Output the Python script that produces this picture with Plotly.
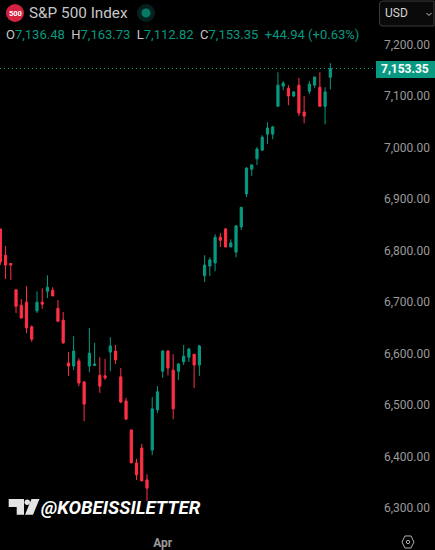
import plotly.graph_objects as go

W = 435
H = 550

# daily candles
opens = [6842, 6791, 6775, 6724, 6694, 6700, 6652, 6683, 6700, 6721, 6723, 6688, 6665, 6582, 6576, 6586,
         6545, 6576, 6577, 6558, 6557, 6603, 6605, 6555, 6508, 6452, 6388, 6417, 6355, 6413, 6491, 6566,
         6605, 6568, 6566, 6584, 6593, 6599, 6578, 6751, 6770, 6776, 6826, 6842, 6807, 6797, 6846, 6910,
         6958, 6978, 6995, 7026, 7026, 7080, 7119, 7115, 7100, 7121, 7069, 7109, 7121, 7117, 7080, 7136.48]
highs = [6842, 6809, 6776, 6725, 6706, 6731, 6655, 6721, 6727, 6752, 6729, 6704, 6681, 6603, 6634, 6591,
         6547, 6650, 6621, 6593, 6590, 6632, 6617, 6572, 6514, 6452, 6396, 6425, 6366, 6516, 6537, 6607,
         6607, 6599, 6582, 6617, 6611, 6599, 6617, 6791, 6787, 6832, 6834, 6844, 6822, 6849, 6884, 6962,
         6968, 7001, 7024, 7049, 7042, 7146, 7129, 7121, 7109, 7135, 7100, 7129, 7137, 7146, 7117, 7163.73]
lows = [6772, 6745, 6743, 6679, 6669, 6640, 6623, 6679, 6687, 6708, 6712, 6661, 6619, 6557, 6568, 6537,
        6469, 6564, 6576, 6524, 6549, 6566, 6580, 6504, 6471, 6388, 6355, 6353, 6314, 6403, 6485, 6553,
        6558, 6473, 6549, 6578, 6584, 6533, 6557, 6739, 6751, 6760, 6807, 6807, 6807, 6787, 6840, 6904,
        6945, 6966, 6993, 7007, 7016, 7080, 7111, 7082, 7098, 7061, 7047, 7104, 7115, 7080, 7045, 7112.82]
closes = [6778, 6772, 6772, 6692, 6669, 6650, 6628, 6700, 6696, 6729, 6712, 6663, 6621, 6576, 6605, 6543,
          6502, 6601, 6580, 6537, 6553, 6615, 6588, 6506, 6473, 6388, 6365, 6353, 6339, 6493, 6526, 6605,
          6572, 6493, 6580, 6595, 6609, 6578, 6615, 6772, 6782, 6826, 6820, 6807, 6815, 6848, 6884, 6960,
          6966, 6997, 7020, 7038, 7040, 7121, 7125, 7100, 7108, 7067, 7061, 7123, 7137, 7080, 7108, 7153.35]
days = list(range(len(closes)))

price_ticks = [6300, 6400, 6500, 6600, 6700, 6800, 6900, 7000, 7100, 7200]
month_day = [31]
month_label = ["<b>Apr</b>"]

GREEN = "#089981"
RED = "#FF3045"
LABEL = "#9a9a9a"
FONT = "Roboto"


def px(x):
    return x / W


def py(y):
    return 1 - y / H


def poly(points, color):
    path = "M" + " L".join(f"{px(a):.4f},{py(b):.4f}" for a, b in points) + " Z"
    return dict(type="path", xref="paper", yref="paper", path=path,
                fillcolor=color, line=dict(width=0))


def text(x, y, s, size, color, anchor="left", **kw):
    return dict(xref="paper", yref="paper", x=px(x), y=py(y), text=s, showarrow=False,
                xanchor=anchor, yanchor="middle", font=dict(family=FONT, size=size, color=color), **kw)


candles = go.Candlestick(
    x=days, open=opens, high=highs, low=lows, close=closes,
    increasing=dict(line=dict(color=GREEN, width=1), fillcolor=GREEN),
    decreasing=dict(line=dict(color=RED, width=1), fillcolor=RED),
    whiskerwidth=0,
    showlegend=False,
)

fig = go.Figure(data=[candles])

shapes = [
    # last price line
    dict(type="line", xref="paper", yref="y", x0=0, x1=px(376), y0=closes[-1], y1=closes[-1],
         line=dict(color=GREEN, width=1, dash="1px,3px")),
    dict(type="rect", xref="paper", yref="paper", x0=px(376), x1=1, y0=py(78), y1=py(61),
         fillcolor=GREEN, line=dict(width=0)),
    # index logo
    dict(type="circle", xref="paper", yref="paper", x0=px(6), x1=px(24), y0=py(22), y1=py(4),
         fillcolor="#D3213F", line=dict(width=0)),
    # market status dot
    dict(type="circle", xref="paper", yref="paper", x0=px(137), x1=px(155), y0=py(22), y1=py(4),
         fillcolor="#06211D", line=dict(width=0)),
    dict(type="circle", xref="paper", yref="paper", x0=px(141.5), x1=px(150.5), y0=py(17.5), y1=py(8.5),
         fillcolor="#057A67", line=dict(width=0)),
    # currency button
    dict(type="path", xref="paper", yref="paper",
         path=f"M{px(383)},{py(1)} L{px(434)},{py(1)} L{px(434)},{py(26)} L{px(383)},{py(26)} "
              f"Q{px(379.5)},{py(26)} {px(379.5)},{py(23)} L{px(379.5)},{py(4)} Q{px(379.5)},{py(1)} {px(383)},{py(1)} Z",
         fillcolor="#0A0A0A", line=dict(color="#3A3A3A", width=1)),
    dict(type="path", xref="paper", yref="paper",
         path=f"M{px(426.5)},{py(13)} L{px(429)},{py(15.5)} L{px(431.5)},{py(13)}",
         line=dict(color="#C8C8C8", width=1)),
    # TradingView mark
    poly([(8.7, 499), (24, 499), (24, 514.7), (16.7, 514.7), (16.7, 507), (8.7, 507)], "#E4E4E4"),
    poly([(31.5, 499), (39.5, 499), (33, 514.7), (25, 514.7)], "#E4E4E4"),
    dict(type="circle", xref="paper", yref="paper", x0=px(24.5), x1=px(30), y0=py(505), y1=py(499.5),
         fillcolor="#E4E4E4", line=dict(width=0)),
    # settings icon
    dict(type="path", xref="paper", yref="paper",
         path="M" + " L".join(f"{px(a):.4f},{py(b):.4f}" for a, b in
                              [(402, 542), (405, 536), (411, 536), (414, 542), (411, 548), (405, 548)]) + " Z",
         line=dict(color="#B0B0B0", width=1)),
    dict(type="circle", xref="paper", yref="paper", x0=px(406.3), x1=px(409.7), y0=py(543.7), y1=py(540.3),
         line=dict(color="#B0B0B0", width=1)),
]

g = f"<span style='color:{GREEN}'>"
ohlc = (f"O{g}7,136.48</span>  H{g}7,163.73</span>  L{g}7,112.82</span>  "
        f"C{g}7,153.35</span>  {g}+44.94 (+0.63%)</span>")

annotations = [
    text(11.5, 13.5, "<b>500</b>", 7.5, "#FFFFFF", anchor="center", xshift=3.5),
    text(27, 13.5, "S&amp;P 500 Index", 15.3, "#C6C6C6"),
    text(4, 34.5, ohlc, 13, "#C6C6C6"),
    text(383, 13.5, "USD", 12, "#D4D4D4"),
    text(431, 69.5, "<b>7,153.35</b>", 12, "#FFFFFF", anchor="right"),
    text(39, 507.5, "<b><i>@KOBEISSILETTER</i></b>", 18.7, "#FFFFFF"),
]

fig.update_layout(
    width=W,
    height=H,
    autosize=False,
    margin=dict(l=0, r=0, t=0, b=0),
    paper_bgcolor="#000000",
    plot_bgcolor="#000000",
    boxgap=0.4,
    shapes=shapes,
    annotations=annotations,
    font=dict(family=FONT, size=12, color=LABEL),
    xaxis=dict(
        domain=[0, px(378)], range=[-0.06, 72.1], rangeslider=dict(visible=False),
        tickmode="array", tickvals=month_day, ticktext=month_label,
        tickfont=dict(family=FONT, size=12, color=LABEL), ticklen=0, ticks="", ticklabelstandoff=6,
        showgrid=False, zeroline=False, showline=False, anchor="y",
    ),
    yaxis=dict(
        domain=[py(528), 1], range=[6261.7, 7286.3], side="right",
        tickmode="array", tickvals=price_ticks, tickformat=",.2f",
        tickfont=dict(family=FONT, size=12, color=LABEL), ticks="", ticklen=0, ticklabelstandoff=5,
        showgrid=False, zeroline=False, showline=False, anchor="x",
    ),
)

fig.write_html("out.html", config=dict(displayModeBar=False),
               post_script="document.body.style.margin='0';")
